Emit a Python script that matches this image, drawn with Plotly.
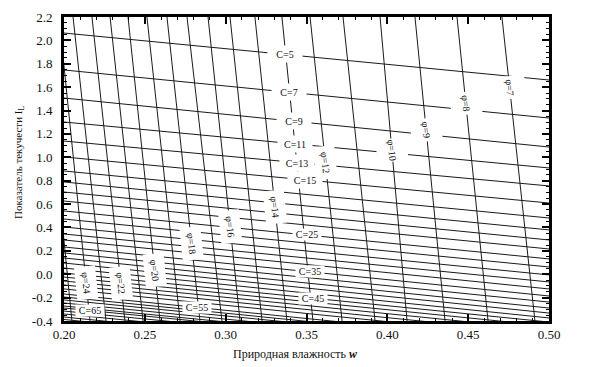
import plotly.graph_objects as go

# ---------------- data ----------------
W_RANGE = [0.20, 0.50]
IL_RANGE = [-0.4, 2.2]

# lines of constant cohesion C: IL value at w = 0.20 and at w = 0.50
c_values = [5, 7, 9, 11, 13, 15, 17, 19, 21, 23, 25, 27, 29, 31, 33, 35, 37, 39,
            41, 43, 45, 47, 49, 51, 53, 55, 57, 59, 61, 63, 65, 67, 69, 71, 73]
c_il_left = [2.063, 1.747, 1.507, 1.302, 1.139, 1.003, 0.883, 0.789, 0.703, 0.626,
             0.541, 0.472, 0.404, 0.344, 0.293, 0.233, 0.182, 0.139, 0.096, 0.053,
             0.010, -0.024, -0.058, -0.092, -0.126, -0.169, -0.195, -0.220, -0.246,
             -0.272, -0.289, -0.315, -0.340, -0.366, -0.387]
c_il_right = [1.661, 1.336, 1.088, 0.909, 0.755, 0.609, 0.481, 0.379, 0.293, 0.216,
              0.131, 0.062, -0.006, -0.066, -0.126, -0.186, -0.238, -0.289, -0.332,
              -0.374, -0.409, -0.443, -0.477, -0.511, -0.545, -0.588, -0.61, -0.63,
              -0.66, -0.68, -0.70, -0.72, -0.75, -0.78, -0.80]

# lines of constant friction angle phi: w value at IL = 2.2 and at IL = -0.4
phi_values = [7, 8, 9, 10, 11, 12, 13, 14, 15, 16, 17, 18, 19, 20, 21, 22, 23, 24, 25]
phi_w_top = [0.4709, 0.4431, 0.4171, 0.3955, 0.3726, 0.3522, 0.3348, 0.3181, 0.3027,
             0.2891, 0.2761, 0.2637, 0.2513, 0.2396, 0.2285, 0.2173, 0.2056, 0.1969,
             0.1864]
phi_w_bottom = [0.4913, 0.4623, 0.4357, 0.4122, 0.3924, 0.3720, 0.3540, 0.3379, 0.3225,
                0.3089, 0.2977, 0.2841, 0.2718, 0.2594, 0.2489, 0.2377, 0.2260, 0.2161,
                0.2049]

# labelled lines and where along them the label sits
c_label_values = [5, 7, 9, 11, 13, 15, 25, 35, 45, 55, 65]
c_label_w = [0.337, 0.339, 0.342, 0.343, 0.344, 0.349, 0.350, 0.352, 0.354, 0.282, 0.216]
phi_label_values = [7, 8, 9, 10, 12, 14, 16, 18, 20, 22, 24]
phi_label_il = [1.60, 1.464, 1.233, 1.062, 0.951, 0.575, 0.404, 0.267, 0.036, -0.075, -0.075]

x_tick_vals = [0.20, 0.25, 0.30, 0.35, 0.40, 0.45, 0.50]
x_tick_text = ["0.20", "0.25", "0.30", "0.35", "0.40", "0.45", "0.50"]
y_tick_vals = [2.2, 2.0, 1.8, 1.6, 1.4, 1.2, 1.0, 0.8, 0.6, 0.4, 0.2, 0.0, -0.2, -0.4]
y_tick_text = ["2.2", "2.0", "1.8", "1.6", "1.4", "1.2", "1.0", "0.8", "0.6", "0.4",
               "0.2", "0.0", "-0.2", "-0.4"]

x_title = "Природная влажность <b><i>w</i></b>"
y_title = "Показатель текучести I<sub>L</sub>"

# ---------------- figure ----------------
# the page body has an 8px default margin, so the figure is 8px smaller
# and the plot area lands at x 64..549, y 17..321 of the window
PAGE_OFF = 8
SERIF = "Liberation Serif, Times New Roman, serif"
LINE = dict(color="#1a1a1a", width=1)

fig = go.Figure()

for c, yl, yr in zip(c_values, c_il_left, c_il_right):
    fig.add_trace(go.Scatter(x=W_RANGE, y=[yl, yr], mode="lines", line=LINE,
                             hoverinfo="skip", showlegend=False, name=f"C={c}"))

for p, wt, wb in zip(phi_values, phi_w_top, phi_w_bottom):
    fig.add_trace(go.Scatter(x=[wt, wb], y=[IL_RANGE[1], IL_RANGE[0]], mode="lines",
                             line=LINE, hoverinfo="skip", showlegend=False,
                             name=f"φ={p}"))

annotations = []
for c, w in zip(c_label_values, c_label_w):
    i = c_values.index(c)
    il = c_il_left[i] + (c_il_right[i] - c_il_left[i]) * (w - W_RANGE[0]) / (W_RANGE[1] - W_RANGE[0])
    big = c <= 15
    annotations.append(dict(x=w, y=il, xref="x", yref="y", text=f"C={c}",
                            xanchor="center", yanchor="middle",
                            showarrow=False, font=dict(family=SERIF, size=10, color="#111"),
                            bgcolor="white", width=34 if big else 28,
                            height=16 if big else 11, borderpad=0))

for p, il in zip(phi_label_values, phi_label_il):
    i = phi_values.index(p)
    w = phi_w_top[i] + (phi_w_bottom[i] - phi_w_top[i]) * (IL_RANGE[1] - il) / (IL_RANGE[1] - IL_RANGE[0])
    top = p <= 10
    annotations.append(dict(x=w, y=il, xref="x", yref="y", text=f"φ={p}",
                            xanchor="center", yanchor="middle",
                            showarrow=False, font=dict(family=SERIF, size=10, color="#111"),
                            textangle=84, bgcolor="white",
                            width=22 if top else 32, height=30 if top else 20,
                            borderpad=0))

# axis titles (positions in window pixels converted to paper fractions)
annotations.append(dict(x=(295 - 64) / 485, y=(321 - 354) / 304, xref="paper", yref="paper",
                        text=x_title, showarrow=False, xanchor="center", yanchor="middle",
                        font=dict(family=SERIF, size=12, color="#111")))
annotations.append(dict(x=(19 - 64) / 485, y=(321 - 163) / 304, xref="paper", yref="paper",
                        text=y_title, showarrow=False, textangle=-90,
                        xanchor="center", yanchor="middle",
                        font=dict(family=SERIF, size=11, color="#111")))

axis_common = dict(showgrid=False, zeroline=False, showline=True, linecolor="black",
                   linewidth=3, mirror="allticks", ticks="inside", ticklen=7,
                   tickwidth=2, tickcolor="black",
                   tickfont=dict(family=SERIF, size=13, color="#111"))

fig.update_layout(
    width=590 - PAGE_OFF, height=367 - PAGE_OFF,
    margin=dict(l=64 - PAGE_OFF, r=41, t=17 - PAGE_OFF, b=46, autoexpand=False),
    paper_bgcolor="white", plot_bgcolor="white",
    showlegend=False,
    annotations=annotations,
    xaxis=dict(range=W_RANGE, tickvals=x_tick_vals, ticktext=x_tick_text,
               minor=dict(dtick=0.01, ticks="inside", ticklen=3, tickwidth=1,
                          tickcolor="black", showgrid=False),
               ticklabelstandoff=-1, **axis_common),
    yaxis=dict(range=IL_RANGE, tickvals=y_tick_vals, ticktext=y_tick_text,
               minor=dict(dtick=0.05, ticks="inside", ticklen=3, tickwidth=1,
                          tickcolor="black", showgrid=False),
               ticklabelstandoff=6, **axis_common),
)

fig.write_html("out.html")
